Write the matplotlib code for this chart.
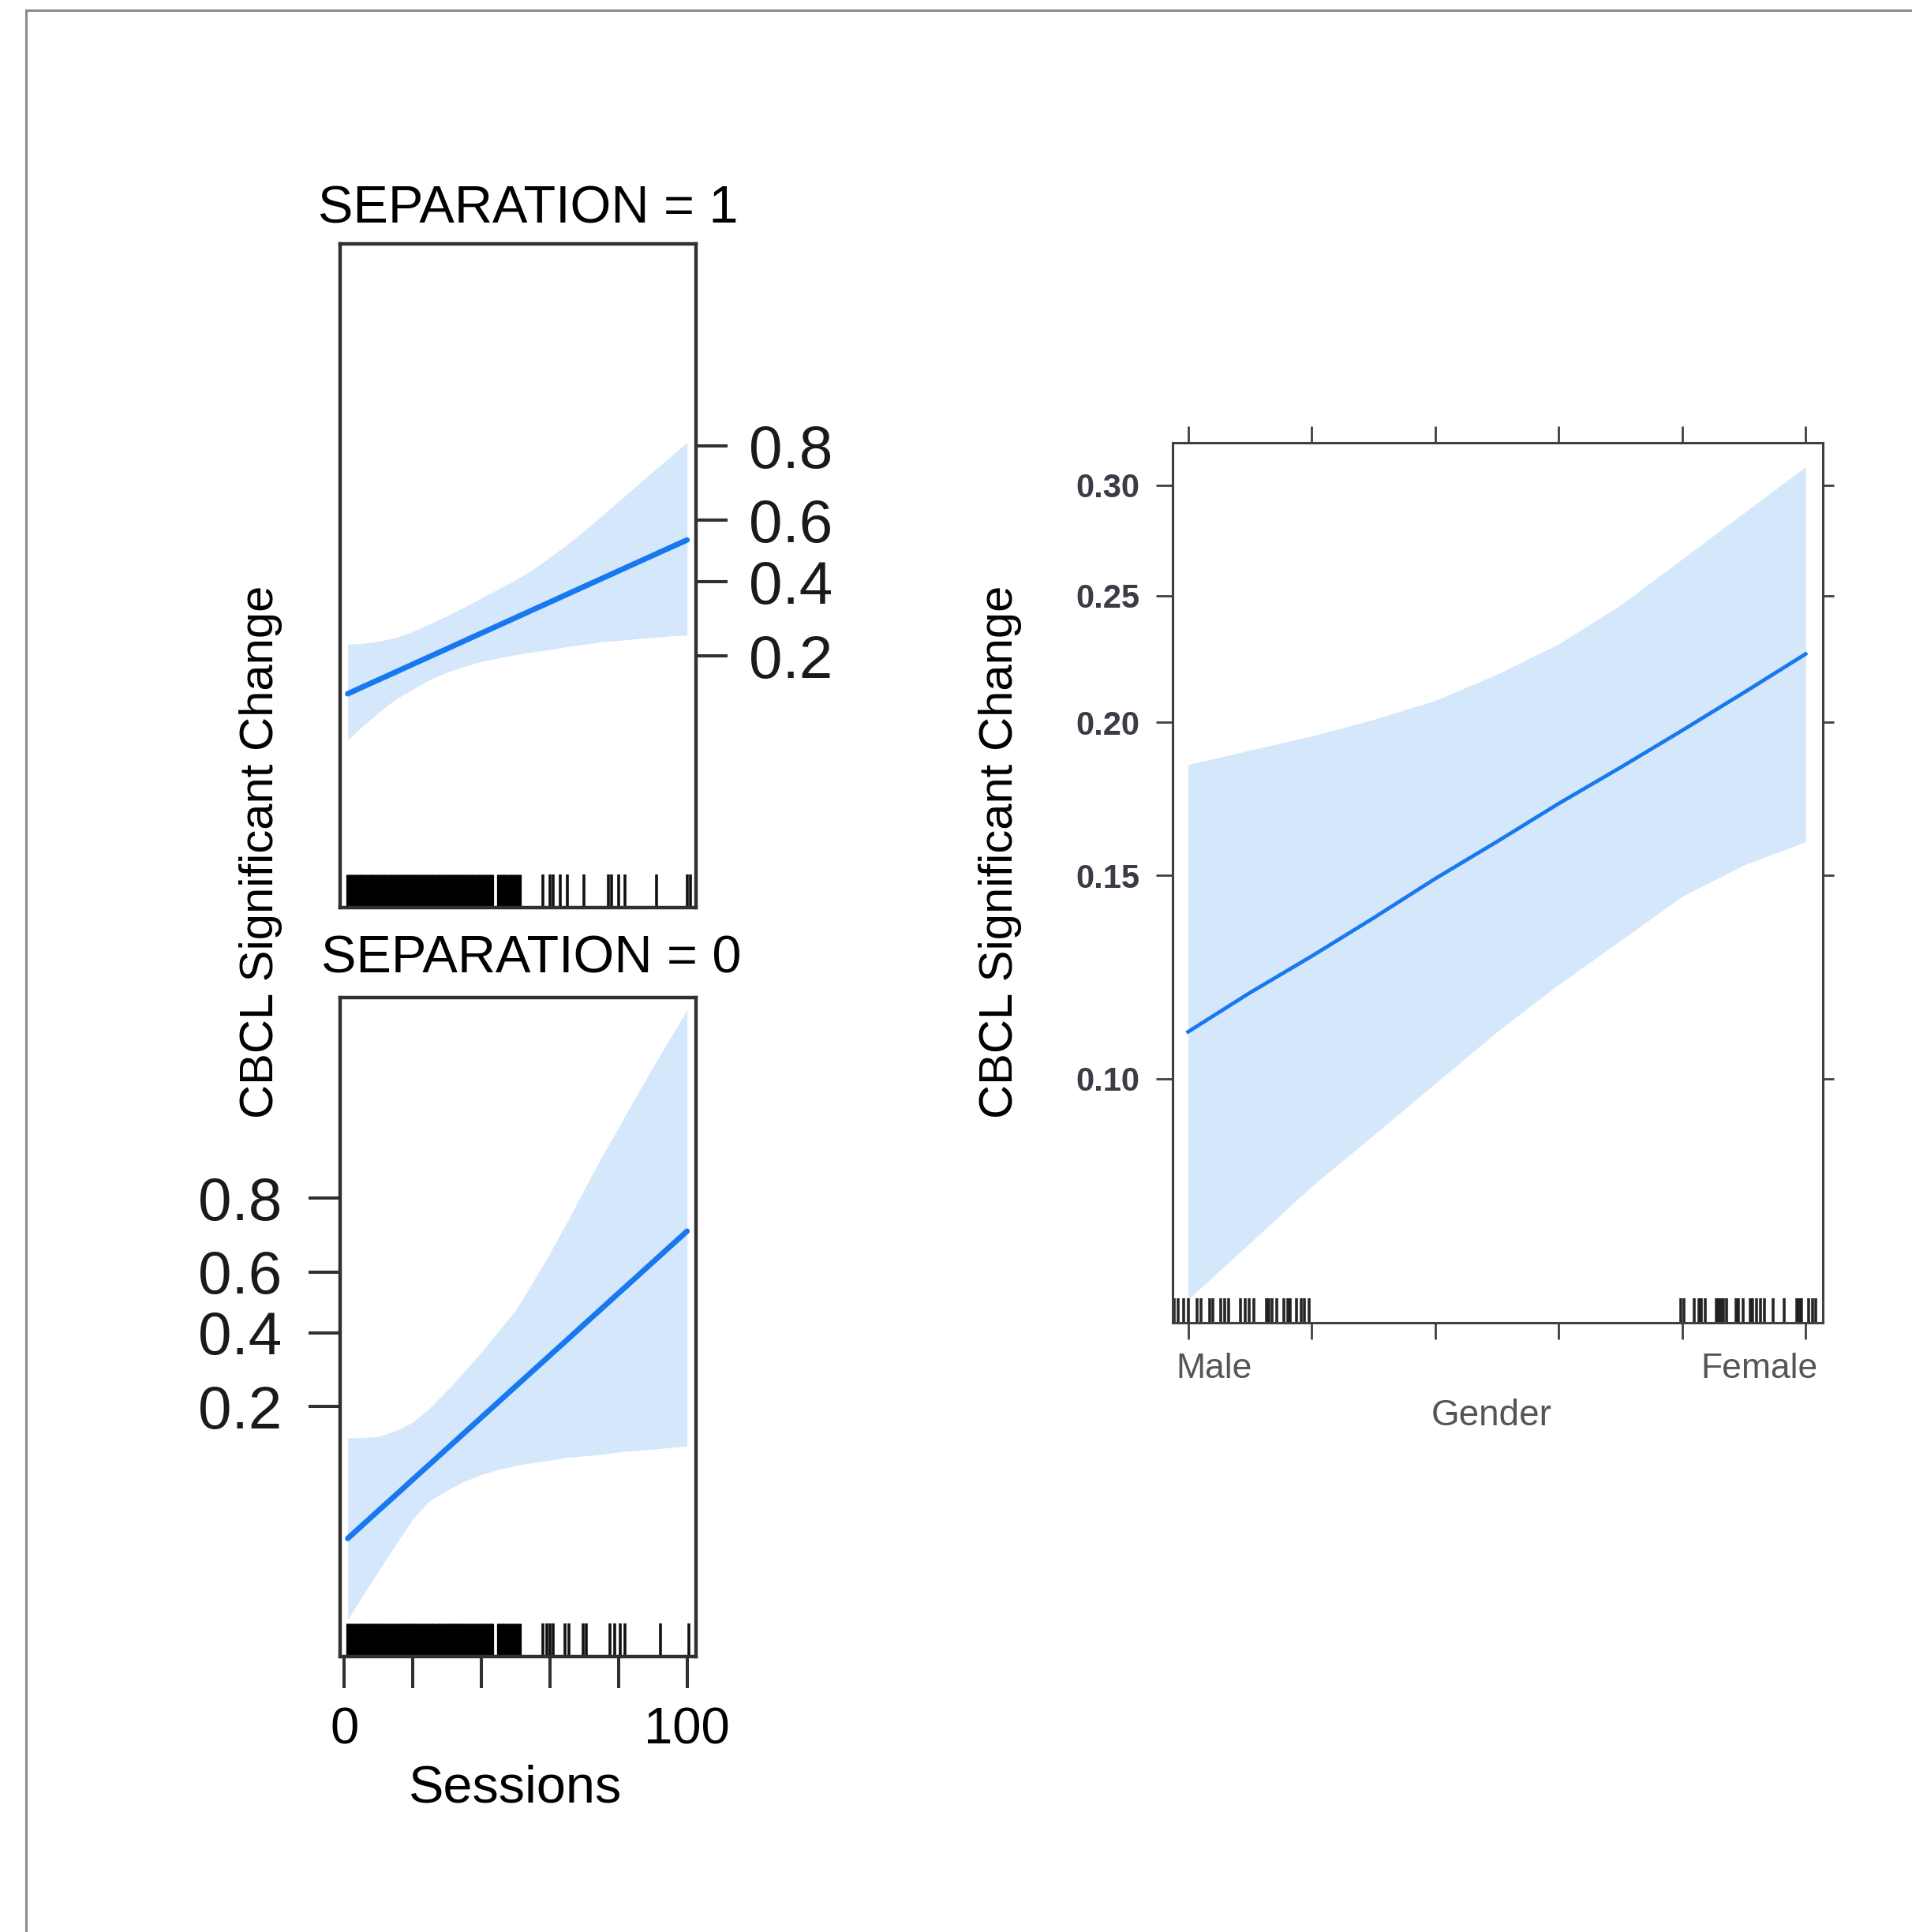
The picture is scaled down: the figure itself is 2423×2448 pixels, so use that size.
import numpy as np
import matplotlib
matplotlib.use("Agg")
import matplotlib.pyplot as plt
from matplotlib.lines import Line2D
from matplotlib.ticker import NullLocator

plt.rcParams["font.family"] = ["Liberation Sans", "DejaVu Sans"]

LINE = "#1878F0"
BAND = "#D5E7FB"

# effect of Sessions, by SEPARATION (probability scale)
sessions = [1, 5, 10, 15, 20, 25, 30, 35, 40, 45, 50, 55, 60, 65, 70, 75, 80, 85, 90, 95, 100]

sep1_fit = [0.1319, 0.1417, 0.1546, 0.1684, 0.1833, 0.1992, 0.2160, 0.2340, 0.2529, 0.2727,
            0.2935, 0.3154, 0.3378, 0.3612, 0.3853, 0.4098, 0.4349, 0.4603, 0.4858, 0.5115, 0.5369]
sep1_lower = [0.076, 0.089, 0.106, 0.124, 0.139, 0.155, 0.168, 0.179, 0.189, 0.196, 0.203,
              0.209, 0.214, 0.221, 0.226, 0.232, 0.235, 0.239, 0.242, 0.246, 0.248]
sep1_upper = [0.226, 0.228, 0.233, 0.242, 0.257, 0.277, 0.299, 0.323, 0.350, 0.378, 0.406,
              0.440, 0.480, 0.522, 0.567, 0.613, 0.659, 0.701, 0.741, 0.776, 0.808]

sep0_fit = [0.0415, 0.0486, 0.0591, 0.0716, 0.0867, 0.1044, 0.1254, 0.1498, 0.1781, 0.2103,
            0.2468, 0.2870, 0.3311, 0.3782, 0.4280, 0.4790, 0.5307, 0.5815, 0.6309, 0.6775, 0.7209]
sep0_lower = [0.0145, 0.0193, 0.0274, 0.0384, 0.0532, 0.0672, 0.0759, 0.0847, 0.0920, 0.0980,
              0.1025, 0.1062, 0.1091, 0.1130, 0.1150, 0.1171, 0.1203, 0.1224, 0.1245, 0.1267, 0.1290]
sep0_upper = [0.142, 0.142, 0.144, 0.154, 0.169, 0.198, 0.237, 0.285, 0.341, 0.406, 0.475,
              0.567, 0.659, 0.745, 0.818, 0.873, 0.911, 0.939, 0.958, 0.971, 0.980]

# observed sessions (rug): a dense block, then scattered values
rug_dense = list(range(1, 44)) + list(range(45, 52))
sep1_rug = [58, 60, 61, 63, 65, 70, 77, 78, 80, 82, 91, 100, 101]
sep0_rug = [58, 59, 60, 61, 64.5, 65.5, 69.7, 70.7, 77.4, 78.9, 80.5, 82, 92.3, 100.5]

session_ticks = [0, 20, 40, 60, 80, 100]
session_ticklabels = ["0", "", "", "", "", "100"]
prob_ticks = [0.2, 0.4, 0.6, 0.8]
prob_ticklabels = ["0.2", "0.4", "0.6", "0.8"]

# effect of Gender (0 = Male, 1 = Female)
gender_x = [0.0, 0.1, 0.2, 0.3, 0.4, 0.5, 0.6, 0.7, 0.8, 0.9, 1.0]
gender_fit = [0.110, 0.119, 0.128, 0.138, 0.149, 0.160, 0.172, 0.184, 0.197, 0.211, 0.226]
gender_upper = [0.185, 0.190, 0.195, 0.201, 0.208, 0.218, 0.230, 0.246, 0.266, 0.287, 0.309]
gender_lower = [0.063, 0.071, 0.080, 0.089, 0.099, 0.110, 0.121, 0.132, 0.144, 0.153, 0.160]
gender_rug = [-0.022, -0.016, -0.007, 0.0, 0.015, 0.021, 0.035, 0.04, 0.053, 0.059, 0.066,
              0.085, 0.092, 0.099, 0.106, 0.127, 0.131, 0.136, 0.143, 0.155, 0.162, 0.166,
              0.176, 0.183, 0.189, 0.196,
              0.798, 0.803, 0.820, 0.827, 0.831, 0.838, 0.855, 0.859, 0.863, 0.867, 0.872,
              0.887, 0.891, 0.899, 0.910, 0.914, 0.921, 0.927, 0.933, 0.948, 0.965, 0.986,
              0.990, 0.994, 1.005, 1.011, 1.016]
gender_yticks = [0.10, 0.15, 0.20, 0.25, 0.30]
gender_yticklabels = ["0.10", "0.15", "0.20", "0.25", "0.30"]
gender_xticks = [0.0, 0.2, 0.4, 0.6, 0.8, 1.0]


def draw_sessions(ax, fit, lower, upper, rug):
    ax.set_yscale("logit")
    ax.fill_between(sessions, lower, upper, color=BAND, lw=0)
    ax.plot(sessions, fit, color=LINE, lw=5.0, solid_capstyle="round")
    xt = ax.get_xaxis_transform()
    ax.vlines(rug_dense, 0, 0.05, transform=xt, color="black", lw=3.8)
    ax.vlines(rug, 0, 0.05, transform=xt, color="#111111", lw=2.6)
    ax.set_xlim(-1.2, 102.6)
    ax.set_ylim(0.00893, 0.983)
    ax.set_yticks(prob_ticks)
    ax.set_yticklabels(prob_ticklabels)
    ax.yaxis.set_minor_locator(NullLocator())
    ax.xaxis.set_minor_locator(NullLocator())
    for s in ax.spines.values():
        s.set_color("#303030")
        s.set_linewidth(3.2)
    ax.tick_params(axis="y", direction="out", length=29, width=2.9, color="#303030",
                   labelsize=55, labelcolor="#1a1a1a", pad=19)


fig = plt.figure(figsize=(24.23, 24.48), dpi=100)

# SEPARATION = 1 panel (upper)
ax1 = fig.add_axes([0.1779, 0.5302, 0.1861, 0.3435])
draw_sessions(ax1, sep1_fit, sep1_lower, sep1_upper, sep1_rug)
ax1.yaxis.tick_right()
ax1.tick_params(axis="x", bottom=False, labelbottom=False)
fig.text(0.2761, 0.8848, "SEPARATION = 1", fontsize=48, ha="center", va="baseline")

# SEPARATION = 0 panel (lower)
ax0 = fig.add_axes([0.1779, 0.1426, 0.1861, 0.3411])
draw_sessions(ax0, sep0_fit, sep0_lower, sep0_upper, sep0_rug)
ax0.yaxis.tick_left()
ax0.tick_params(axis="y", pad=24)
ax0.set_xticks(session_ticks)
ax0.set_xticklabels(session_ticklabels)
ax0.tick_params(axis="x", direction="out", length=29, width=2.9, color="#303030",
                labelsize=47, pad=17)
fig.text(0.278, 0.4967, "SEPARATION = 0", fontsize=48, ha="center", va="baseline")
fig.text(0.2693, 0.067, "Sessions", fontsize=48, ha="center", va="baseline")

fig.text(0.1362, 0.559, "CBCL Significant Change", fontsize=43, rotation=90,
         ha="center", va="center")

# Gender panel
axg = fig.add_axes([0.6133, 0.3152, 0.3401, 0.4555])
axg.set_yscale("logit")
axg.fill_between(gender_x, gender_lower, gender_upper, color=BAND, lw=0)
axg.plot(gender_x, gender_fit, color=LINE, lw=3.4)
axg.vlines(gender_rug, 0, 0.028, transform=axg.get_xaxis_transform(), color="black",
           lw=2.6, alpha=0.85)
axg.set_xlim(-0.025, 1.028)
axg.set_ylim(0.0599, 0.3206)
axg.set_yticks(gender_yticks)
axg.set_yticklabels(gender_yticklabels)
axg.yaxis.set_minor_locator(NullLocator())
axg.set_xticks(gender_xticks)
axg.set_xticklabels([])
for s in axg.spines.values():
    s.set_color("#404040")
    s.set_linewidth(2.2)
axg.tick_params(axis="both", direction="out", length=15, width=2.0, color="#404040",
                top=True, right=True)
axg.tick_params(axis="y", labelsize=30, labelcolor="#3c3c46", pad=15)
for lbl in axg.get_yticklabels():
    lbl.set_fontweight("bold")
for t in axg.yaxis.get_major_ticks():
    t.tick2line.set_markersize(10)
xt = axg.get_xaxis_transform()
axg.text(-0.02, -0.0336, "Male", transform=xt, ha="left", va="top", fontsize=32, color="#555555")
axg.text(1.02, -0.0336, "Female", transform=xt, ha="right", va="top", fontsize=32, color="#555555")
axg.text(0.49, -0.0857, "Gender", transform=axg.transAxes, ha="center", va="top",
         fontsize=33, color="#555555")

fig.text(0.5233, 0.559, "CBCL Significant Change", fontsize=43, rotation=90,
         ha="center", va="center")

# outer frame (top and left edges)
fig.add_artist(Line2D([0.0136, 1.0], [0.9947, 0.9947], transform=fig.transFigure,
                      color="#8c8c8c", lw=2.2))
fig.add_artist(Line2D([0.0136, 0.0136], [0.0, 0.9947], transform=fig.transFigure,
                      color="#8c8c8c", lw=2.2))

fig.savefig("out.png", dpi=100)
